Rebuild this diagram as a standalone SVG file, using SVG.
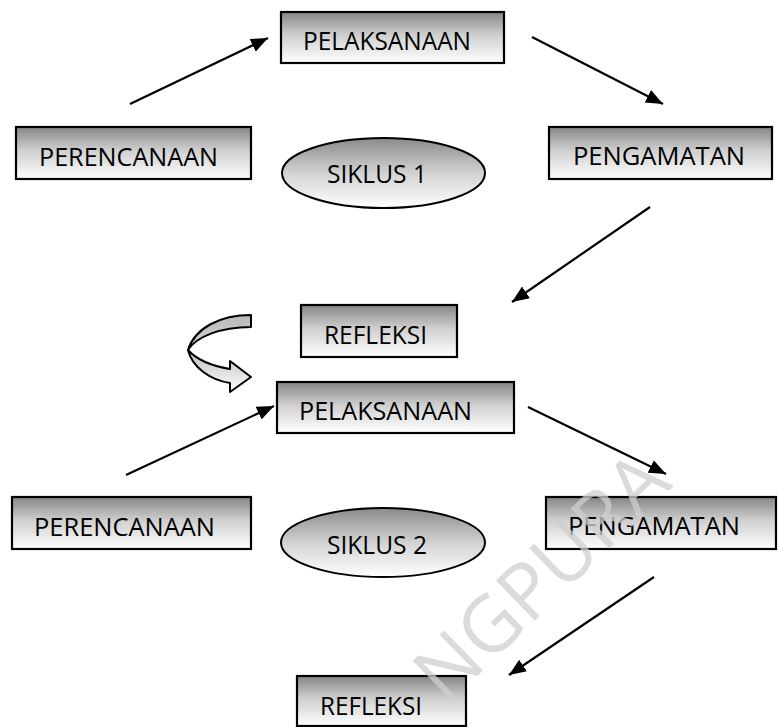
<svg xmlns="http://www.w3.org/2000/svg" width="778" height="727" viewBox="0 0 778 727">
  <style>
    .box { stroke: #000; stroke-width: 2.2; fill: url(#boxFill); }
    .oval { stroke: #000; stroke-width: 2; fill: url(#ovalFill); }
    .lbl { font-family: "Open Sans", "Noto Sans", "Liberation Sans", sans-serif; font-size: 26px; fill: #000; }
    .link { stroke: #000; stroke-width: 2.2; fill: none; marker-end: url(#head); }
    .mark { font-family: "Open Sans", "Noto Sans", "Liberation Sans", sans-serif; font-size: 78px; fill: #cfcfcf; opacity: 0.75; }
  </style>
  <defs>
    <linearGradient id="boxFill" x1="0" y1="0" x2="0" y2="1">
      <stop offset="0" stop-color="#858585"/>
      <stop offset="0.45" stop-color="#cfcfcf"/>
      <stop offset="1" stop-color="#ffffff"/>
    </linearGradient>
    <linearGradient id="ovalFill" x1="0" y1="0" x2="0" y2="1">
      <stop offset="0" stop-color="#8a8a8a"/>
      <stop offset="0.5" stop-color="#d2d2d2"/>
      <stop offset="1" stop-color="#ffffff"/>
    </linearGradient>
    <linearGradient id="bandBack" x1="0" y1="0" x2="0" y2="1">
      <stop offset="0" stop-color="#b8b8b8"/>
      <stop offset="1" stop-color="#d6d6d6"/>
    </linearGradient>
    <linearGradient id="bandFront" x1="0" y1="0" x2="0" y2="1">
      <stop offset="0" stop-color="#bdbdbd"/>
      <stop offset="1" stop-color="#ffffff"/>
    </linearGradient>
    <marker id="head" markerUnits="userSpaceOnUse" markerWidth="20" markerHeight="16" refX="17" refY="7" orient="auto">
      <path d="M0,0 L17,7 L0,14 Z" fill="#000"/>
    </marker>
  </defs>

  <!-- connectors -->
  <g id="connectors">
    <line class="link" x1="130" y1="104" x2="268" y2="38"/>
    <line class="link" x1="532" y1="37" x2="663" y2="104"/>
    <line class="link" x1="650" y1="207" x2="512" y2="302"/>
    <line class="link" x1="126" y1="475" x2="274" y2="406"/>
    <line class="link" x1="528" y1="407" x2="666" y2="474"/>
    <line class="link" x1="654" y1="577" x2="509" y2="675"/>
  </g>

  <!-- cycle 1 -->
  <g id="pelaksanaan1">
    <rect class="box" x="281" y="12" width="223" height="51"/>
    <text class="lbl" x="303" y="50" textLength="168" lengthAdjust="spacingAndGlyphs">PELAKSANAAN</text>
  </g>
  <g id="perencanaan1">
    <rect class="box" x="16" y="127" width="235" height="52"/>
    <text class="lbl" x="39" y="166" textLength="179" lengthAdjust="spacingAndGlyphs">PERENCANAAN</text>
  </g>
  <g id="siklus1">
    <ellipse class="oval" cx="383.5" cy="173" rx="101.5" ry="35"/>
    <text class="lbl" x="327" y="183" textLength="100" lengthAdjust="spacingAndGlyphs">SIKLUS 1</text>
  </g>
  <g id="pengamatan1">
    <rect class="box" x="549" y="127" width="223" height="52"/>
    <text class="lbl" x="573" y="165" textLength="172" lengthAdjust="spacingAndGlyphs">PENGAMATAN</text>
  </g>
  <g id="refleksi1">
    <rect class="box" x="301" y="305" width="156" height="52"/>
    <text class="lbl" x="324" y="344" textLength="103" lengthAdjust="spacingAndGlyphs">REFLEKSI</text>
  </g>

  <!-- turn-over arrow into the next cycle -->
  <g id="lanjut">
    <path d="M251,315 C220,315 195,328 188,350 C196,337 220,327 251,327 Z" fill="url(#bandBack)" stroke="#000" stroke-width="2" stroke-linejoin="round"/>
    <path d="M188,350 C192,367 210,380 230,383 L230,392 L251,377 L230,361 L230,369 C212,366 197,360 188,350 Z" fill="url(#bandFront)" stroke="#000" stroke-width="2" stroke-linejoin="round"/>
  </g>

  <!-- cycle 2 -->
  <g id="pelaksanaan2">
    <rect class="box" x="277" y="382" width="237" height="51"/>
    <text class="lbl" x="299" y="420" textLength="173" lengthAdjust="spacingAndGlyphs">PELAKSANAAN</text>
  </g>
  <g id="perencanaan2">
    <rect class="box" x="12" y="497" width="239" height="52"/>
    <text class="lbl" x="34" y="536" textLength="181" lengthAdjust="spacingAndGlyphs">PERENCANAAN</text>
  </g>
  <g id="siklus2">
    <ellipse class="oval" cx="383" cy="542.5" rx="102" ry="34.5"/>
    <text class="lbl" x="327" y="554" textLength="100" lengthAdjust="spacingAndGlyphs">SIKLUS 2</text>
  </g>
  <g id="pengamatan2">
    <rect class="box" x="546" y="497" width="230" height="52"/>
    <text class="lbl" x="568" y="535" textLength="172" lengthAdjust="spacingAndGlyphs">PENGAMATAN</text>
  </g>
  <g id="refleksi2">
    <rect class="box" x="297" y="676" width="169" height="50"/>
    <text class="lbl" x="320" y="715" textLength="102" lengthAdjust="spacingAndGlyphs">REFLEKSI</text>
  </g>

  <!-- faint diagonal watermark over the lower cycle -->
  <text class="mark" text-anchor="middle" transform="translate(560,596) rotate(-44)">NGPURA</text>
</svg>
